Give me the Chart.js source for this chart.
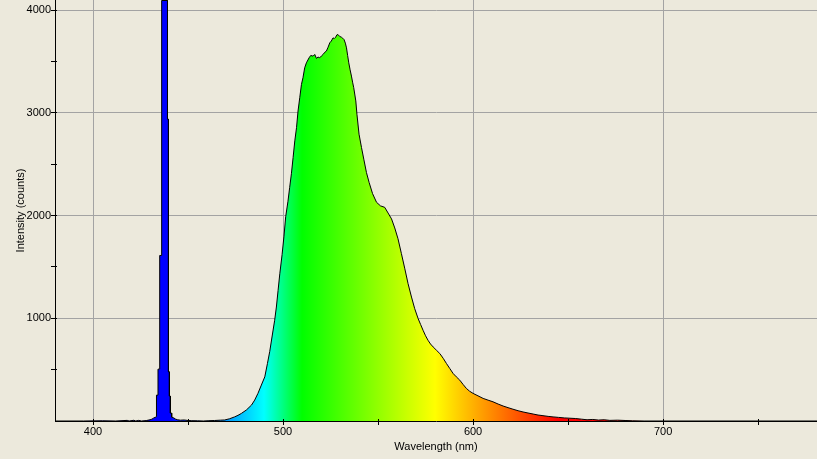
<!DOCTYPE html>
<html><head><meta charset="utf-8">
<script src="https://cdn.jsdelivr.net/npm/chart.js@4/dist/chart.umd.min.js"></script>
<style>html,body{margin:0;padding:0;background:#ECE9DC;overflow:hidden}#wrap{width:817px;height:459px}</style>
</head><body><div id="wrap"><canvas id="c" width="817" height="459"></canvas></div>
<script>
// Wavelength samples (nm) and intensity (counts)
// (the saturated Hg line is read as a histogram: each detector bin gives a start and end edge)
const wavelengths = [380,395,405,412,418,419,421.5,422.5,424,425.5,428,430,431,432,433,433.4,433.4,434.2,434.2,435.1,435.1,435.8,435.8,436.3,436.3,439.2,439.2,439.7,439.7,440.2,440.2,440.7,440.7,441.4,441.4,442.5,443.5,444.5,446,448,450,452,455,458,461,464,467,469.3,471.9,474.5,476.3,478.1,480.7,483.4,485.1,486.8,488.6,490.4,491.8,493.0,494.2,495.6,496.5,497.4,498.3,499.5,500.5,501.4,502.6,503.5,504.4,505.3,506.2,507.1,507.9,508.8,509.7,510.5,511.4,512.3,513.7,514.6,515.8,516.7,517.6,518.4,519.3,520.2,521.1,521.9,522.8,523.7,524.6,525.4,526.3,527.0,527.7,528.3,528.9,529.8,530.7,531.4,532.1,532.8,533.4,534.0,534.6,535.3,536.0,536.6,537.2,538.3,538.9,540.0,541.3,542.5,543.9,545.3,547.1,549.2,551.3,553.5,555.3,557.1,558.8,560.5,562.3,564.1,565.8,567.6,569.3,571.1,572.4,573.7,575,576.3,577.6,579.0,580.7,582.5,584.3,586.0,587.8,589.5,591.2,593.0,594.8,596.5,598.2,600.0,602.6,605.3,607.9,610.5,613.2,615.8,618.4,621,623.7,626.3,628.9,631.6,634.2,636.8,639.5,642.1,645,648,651,654,657,660,663,666,669,672,676,680,684,690,781];
const intensity = [0,0,2,0,6,0,7,0,6,0,4,12,18,30,38,42,252,252,505,505,1612,1612,2696,2696,4095,4095,2940,2940,479,479,243,243,77,77,38,30,18,12,8,10,5,3,2,0,3,5,8,10,22,40,55,74,107,155,204,269,350,430,560,676,818,981,1110,1272,1434,1620,1800,1990,2140,2275,2408,2566,2728,2857,3019,3149,3278,3343,3440,3488,3537,3560,3553,3570,3531,3545,3537,3555,3570,3590,3602,3640,3683,3700,3731,3725,3738,3760,3764,3745,3738,3728,3715,3680,3634,3560,3488,3420,3359,3300,3246,3117,2987,2793,2663,2550,2420,2323,2215,2130,2095,2081,2025,1968,1880,1775,1630,1482,1337,1207,1094,997,940,883,830,786,750,721,690,657,610,560,510,463,430,398,355,317,290,269,245,220,203,187,165,146,130,115,100,88,78,68,58,52,45,40,35,30,27,24,18,12,15,9,12,6,8,5,2,0,0];

const xMajorTicks = [400, 500, 600, 700];
const xMinorTicks = [450, 550, 650, 750];
const yMajorTicks = [1000, 2000, 3000, 4000];
const yMinorTicks = [500, 1500, 2500, 3500];
const xRange = [380, 781];
const yRange = [0, 4100];
// wavelength -> colour stops for the spectrum fill
const spectrumStops = [[440,'rgb(0,0,255)'],[490,'rgb(0,255,255)'],[510,'rgb(0,255,0)'],[580,'rgb(255,255,0)'],[645,'rgb(255,0,0)']];

const FONT = {family: "'Liberation Sans', Arial, sans-serif", size: 11};

function spectrumFill(context) {
  const chart = context.chart;
  const {ctx, chartArea, scales} = chart;
  if (!chartArea || !scales || !scales.x) return 'rgb(0,0,255)';
  const xs = scales.x;
  const x0 = xs.getPixelForValue(xRange[0]), x1 = xs.getPixelForValue(xRange[1]);
  const g = ctx.createLinearGradient(x0, 0, x1, 0);
  spectrumStops.forEach(([w, c]) => g.addColorStop((w - xRange[0]) / (xRange[1] - xRange[0]), c));
  return g;
}

const tickMarks = {
  id: 'tickMarks',
  afterDraw(chart) {
    const {ctx, scales: {x, y}, chartArea: a} = chart;
    ctx.save();
    ctx.strokeStyle = '#000';
    ctx.lineWidth = 1;
    ctx.beginPath();
    [...xMajorTicks, ...xMinorTicks].forEach(v => {
      const px = Math.round(x.getPixelForValue(v) - 0.5) + 0.5;
      ctx.moveTo(px, a.bottom - 2); ctx.lineTo(px, a.bottom + 4);
    });
    [...yMajorTicks, ...yMinorTicks].forEach(v => {
      const py = Math.round(y.getPixelForValue(v) - 0.5) + 0.5;
      ctx.moveTo(a.left - 4, py); ctx.lineTo(a.left + 2, py);
    });
    ctx.stroke();
    ctx.restore();
  }
};

const points = wavelengths.map((w, i) => ({x: w, y: intensity[i]}));

new Chart(document.getElementById('c'), {
  type: 'line',
  data: {datasets: [{
    data: points, stepped: false, fill: 'origin', borderColor: '#000', borderWidth: 1,
    pointRadius: 0, tension: 0, backgroundColor: spectrumFill
  }]},
  options: {
    responsive: false, animation: false, devicePixelRatio: 1,
    layout: {padding: 0, autoPadding: false},
    plugins: {legend: {display: false}, tooltip: {enabled: false}},
    scales: {
      x: {
        type: 'linear', min: xRange[0], max: xRange[1],
        afterBuildTicks: s => { s.ticks = [...xMajorTicks, ...xMinorTicks].sort((a, b) => a - b).map(v => ({value: v})); },
        afterFit: s => { s.height = 38; s.paddingLeft = 0; s.paddingRight = 0; },
        grid: {drawTicks: false, lineWidth: 1, color: c => (c.tick && xMajorTicks.includes(c.tick.value)) ? '#a3a3a3' : 'rgba(0,0,0,0)'},
        border: {color: '#000', width: 1},
        ticks: {autoSkip: false, maxRotation: 0, padding: 4, color: '#000', font: FONT,
          callback: v => xMajorTicks.includes(v) ? String(v) : ''},
        title: {display: true, text: 'Wavelength (nm)', color: '#000', font: FONT, padding: {top: 0, bottom: 5}}
      },
      y: {
        type: 'linear', min: yRange[0], max: yRange[1],
        afterBuildTicks: s => { s.ticks = [...yMajorTicks, ...yMinorTicks].sort((a, b) => a - b).map(v => ({value: v})); },
        afterFit: s => { s.width = 55; s.paddingTop = 0; s.paddingBottom = 0; },
        grid: {drawTicks: false, lineWidth: 1, color: c => (c.tick && yMajorTicks.includes(c.tick.value)) ? '#a3a3a3' : 'rgba(0,0,0,0)'},
        border: {color: '#000', width: 1},
        ticks: {autoSkip: false, padding: 4, color: '#000', font: FONT,
          callback: v => yMajorTicks.includes(v) ? String(v) : ''},
        title: {display: true, text: 'Intensity (counts)', color: '#000', font: FONT, padding: {top: 14, bottom: 0}}
      }
    }
  },
  plugins: [tickMarks]
});
</script>
</body></html>
